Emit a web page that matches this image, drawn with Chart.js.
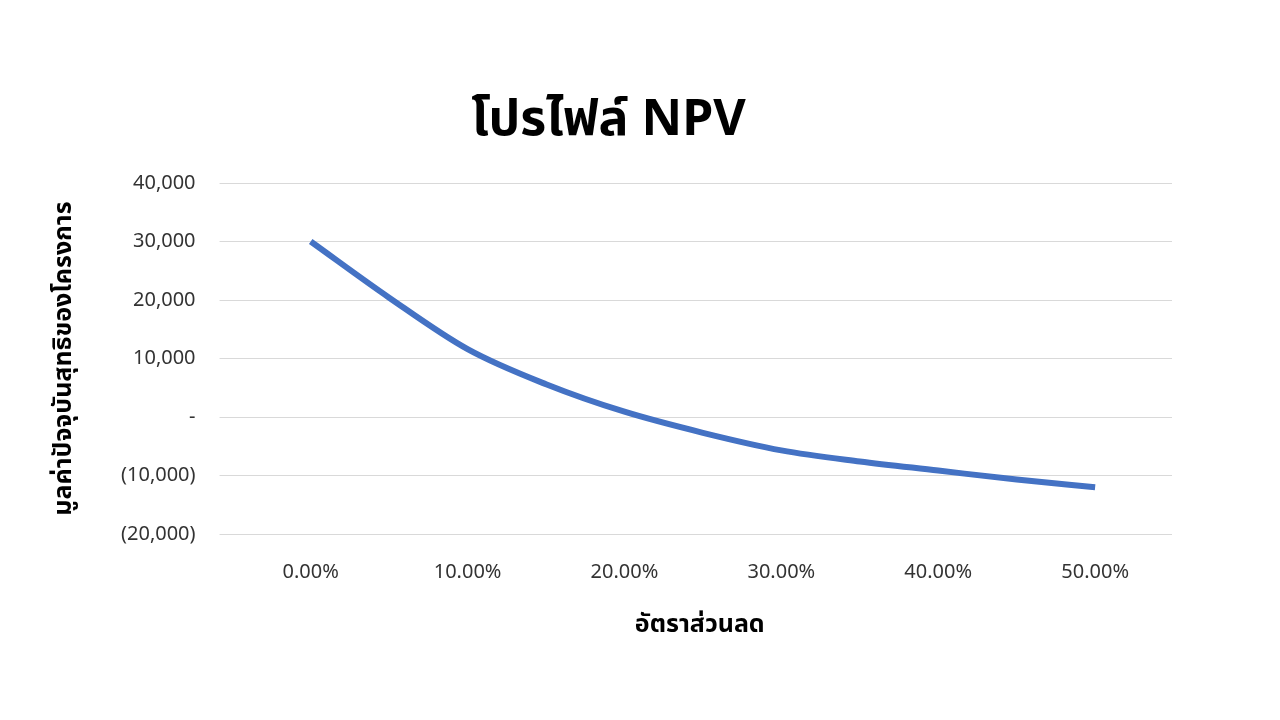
<!DOCTYPE html>
<html><head><meta charset="utf-8">
<script src="https://cdn.jsdelivr.net/npm/chart.js@4/dist/chart.umd.min.js"></script>
<style>html,body{margin:0;background:#fff}#w{width:1280px;height:720px}</style>
</head><body><div id="w"><canvas id="c"></canvas></div>
<script>
const rates = [0, 0.05, 0.10, 0.15, 0.20, 0.25, 0.30, 0.35, 0.40, 0.45, 0.50];
const npv = [30000, 20400, 11600, 5600, 900, -2700, -5700, -7600, -9150, -10700, -12000];
const xTicks = [0, 0.1, 0.2, 0.3, 0.4, 0.5];
const yTicks = [40000, 30000, 20000, 10000, 0, -10000, -20000];
const font = "'Noto Sans','Noto Sans Thai','DejaVu Sans',sans-serif";
function fmt(v){ if(v===0) return '-'; const s=Math.abs(v).toLocaleString('en-US'); return v<0?'('+s+')':s; }
new Chart(document.getElementById('c'), {
  type:'line',
  data:{datasets:[{data:rates.map((r,i)=>({x:r,y:npv[i]})),borderColor:'#4472C4',borderWidth:6,pointRadius:0,tension:0.4,cubicInterpolationMode:'monotone',fill:false}]},
  options:{responsive:true,maintainAspectRatio:false,animation:false,
    layout:{padding:{left:45,right:108,top:91,bottom:76}},
    plugins:{legend:{display:false},tooltip:{enabled:false},
      title:{display:true,text:'โปรไฟล์ NPV',font:{family:font,size:50,weight:'bold'},color:'#000',padding:{top:0,bottom:32}}},
    scales:{
      x:{type:'linear',min:-0.053,max:0.549,
        afterBuildTicks:a=>{a.ticks=xTicks.map(v=>({value:v}));},
        grid:{display:false},border:{display:false},
        ticks:{callback:v=>(v*100).toFixed(2)+'%',font:{family:font,size:20},color:'#333',padding:18},
        title:{display:true,text:'อัตราส่วนลด',font:{family:font,size:25,weight:'bold'},color:'#000',padding:{top:8}}},
      y:{min:-20000,max:40000,
        afterBuildTicks:a=>{a.ticks=yTicks.map(v=>({value:v}));},
        grid:{color:'#d9d9d9',lineWidth:1},border:{display:false},
        ticks:{callback:v=>fmt(v),font:{family:font,size:20},color:'#333',padding:24},
        title:{display:true,text:'มูลค่าปัจจุบันสุทธิของโครงการ',font:{family:font,size:25,weight:'bold'},color:'#000',padding:{bottom:18}}}
    }}
});
</script></body></html>
